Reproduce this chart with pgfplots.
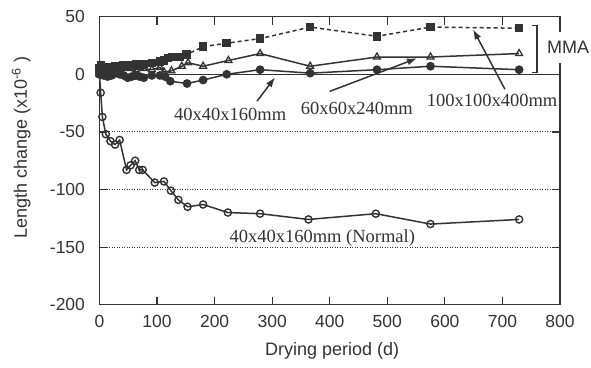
\documentclass[border=0pt]{standalone}
\usepackage{fontspec}
\setmainfont{Liberation Serif}
\newfontfamily\hel{Liberation Sans}
\usepackage{pgfplots}
\pgfplotsset{compat=1.18}
\usetikzlibrary{arrows.meta}

\definecolor{ink}{gray}{0.2}

\begin{document}
\begin{tikzpicture}
\useasboundingbox (-99.5pt,-62.3pt) rectangle (491.5pt,304.7pt);
\begin{axis}[
  scale only axis, width=460.5pt, height=288pt,
  xmin=0, xmax=800, ymin=-200, ymax=50,
  xtick={0,100,...,800}, ytick={-200,-150,...,50},
  tick align=inside, major tick length=8pt,
  axis line style={ink, line width=1.5pt},
  tick style={ink, line width=1.2pt},
  ymajorgrids,
  grid style={ink, line width=1pt, dash pattern=on 1pt off 1.5pt},
  /pgf/number format/assume math mode=true,
  ticklabel style={font=\hel\fontsize{17.5}{20}\selectfont, text=ink},
  yticklabel style={xshift=-11pt},
  xticklabel style={yshift=-7pt},
  xlabel={Drying period (d)},
  ylabel={Length change (x10\textsuperscript{-6} )},
  label style={font=\hel\fontsize{18}{21}\selectfont, text=ink},
  xlabel style={at={(axis description cs:0.505,-0.16)}, anchor=center},
  ylabel style={at={(axis description cs:-0.17,0.545)}, anchor=center},
  clip=false,
  every axis plot/.append style={ink, line width=1.5pt},
]

% zero line
\draw[ink, line width=1.3pt] (axis cs:0,0) -- (axis cs:800,0);

% 40x40x160mm, normal (open circles)
\addplot[mark=o, mark size=3.6pt, mark options={solid, fill=white, line width=1.4pt}] coordinates {
 (0,0) (2,-16) (5,-37) (11,-52) (19,-58) (27,-61) (35,-57) (47,-83) (54,-79)
 (62,-75) (69,-83) (75,-83) (96,-94) (112,-93) (124,-101) (137,-109)
 (153,-115) (180,-113) (223,-120) (279,-121) (363,-126) (480,-121)
 (575,-130) (729,-126)
};

% 100x100x400mm, MMA (filled squares, dashed)
\addplot[dash pattern=on 4pt off 3pt, mark=square*, mark size=3.5pt, mark options={solid, fill=ink}] coordinates {
 (0,5) (3,8) (7,6) (14,5) (21,6) (28,7) (35,6) (42,8) (49,7) (56,8) (63,9)
 (70,8) (77,9) (91,10) (105,11) (112,12) (119,14) (127,15) (140,15) (151,17)
 (180,24) (221,27) (279,31) (366,41) (482,33) (575,41) (729,40)
};

% 60x60x240mm, MMA (open triangles)
\addplot[mark=triangle, mark size=4pt, mark options={solid, fill=white, line width=1.3pt}] coordinates {
 (0,0) (3,3) (7,2) (14,4) (21,3) (28,5) (35,4) (42,5) (49,6) (56,5) (63,4)
 (70,6) (77,5) (91,4) (105,6) (112,2) (125,3) (143,7) (154,10) (180,7)
 (224,12) (279,18) (366,7) (482,15) (575,15) (729,18)
};

% 40x40x160mm, MMA (filled circles)
\addplot[mark=*, mark size=3.6pt, mark options={solid, fill=ink}] coordinates {
 (0,0) (3,2) (7,-1) (14,-2) (21,-1) (28,1) (35,0) (42,-1) (49,-3) (56,-2)
 (63,-1) (70,-2) (77,-3) (91,-1) (105,-1) (114,-2) (123,-6) (152,-8)
 (180,-5) (221,0) (279,4) (366,1) (482,4) (575,7) (729,4)
};

% annotations
\begin{scope}[every node/.style={font=\fontsize{18.5}{20}\selectfont, text=ink}]
\node at (axis cs:227,-34.7) {40x40x160mm};
\node at (axis cs:447,-29.5) {60x60x240mm};
\node at (axis cs:682,-22.6) {100x100x400mm};
\node at (axis cs:387,-142.4) {40x40x160mm (Normal)};
\end{scope}

\begin{scope}[ink, line width=1.5pt, -{Latex[length=10pt,width=7pt]}]
\draw (axis cs:273.6,-23.4) -- (axis cs:305,-2.6);
\draw (axis cs:400,-14.8) -- (axis cs:551.6,13.9);
\draw (axis cs:704.3,-13) -- (axis cs:649,39);
\end{scope}

% bracket grouping the MMA series
\draw[ink, line width=1.5pt] (axis cs:751,42.5) -- (axis cs:760,42.5) -- (axis cs:760,1.7) -- (axis cs:751,1.7);
\coordinate (mma) at (axis cs:814,23.5);
\end{axis}
\node[fill=white, inner xsep=2pt, minimum height=31pt, font=\hel\fontsize{18}{20}\selectfont, text=ink] at (mma) {MMA};
\end{tikzpicture}
\end{document}
